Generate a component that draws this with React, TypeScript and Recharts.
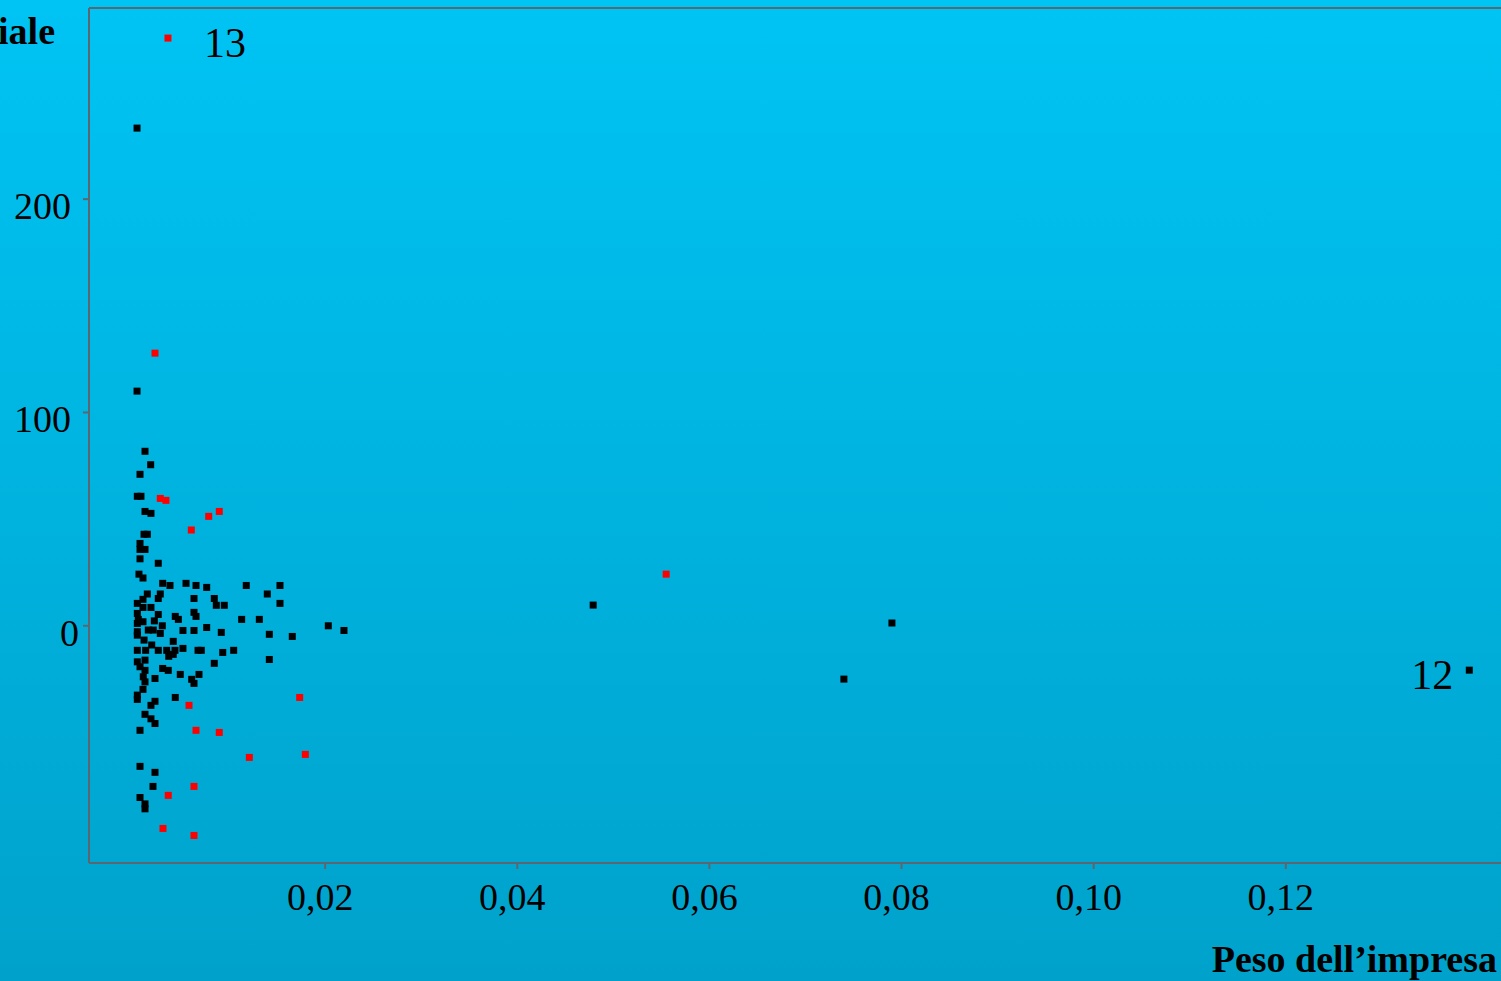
import { ReferenceLine, Scatter, ScatterChart, XAxis, YAxis } from "recharts";

// Peso dell'impresa (x) vs variazione (y).
const blackPoints: [number, number][] = [
  [0.00042, 233.3], [0.00042, 110.0], [0.00125, 81.8], [0.00184, 75.5], [0.00073, 71.0],
  [0.00045, 60.7], [0.00083, 60.7], [0.00125, 53.6], [0.00187, 52.7], [0.00115, 42.9],
  [0.00149, 42.9], [0.00073, 38.6], [0.00073, 35.8], [0.00125, 35.8], [0.00073, 31.4],
  [0.00263, 29.3], [0.00062, 24.2], [0.00104, 22.4], [0.00309, 19.9], [0.00385, 18.9],
  [0.00552, 19.9], [0.00656, 18.9], [0.00767, 18.0], [0.01179, 18.9], [0.0153, 18.9],
  [0.00149, 14.9], [0.00284, 14.9], [0.01398, 14.9], [0.00104, 12.4], [0.00263, 12.8],
  [0.00635, 12.8], [0.00846, 12.8], [0.00867, 9.6], [0.0095, 9.6], [0.0153, 10.5],
  [0.00045, 10.5], [0.00104, 8.6], [0.00187, 8.6], [0.00045, 5.8], [0.00263, 5.3],
  [0.0044, 4.4], [0.00472, 3.0], [0.00635, 6.3], [0.00656, 4.4], [0.01131, 3.0],
  [0.01315, 3.0], [0.00055, 3.0], [0.00104, 1.9], [0.00222, 2.3], [0.00305, 0],
  [0.00045, 1.1], [0.02033, 0], [0.02196, -2.2], [0.0052, -2.2], [0.00635, -2.2],
  [0.00767, -0.8], [0.00919, -3.1], [0.01419, -4.0], [0.01658, -5.0], [0.00045, -2.8],
  [0.00159, -2.0], [0.00211, -2.0], [0.00284, -3.6], [0.00115, -6.7], [0.00419, -7.3],
  [0.00045, -4.4], [0.00195, -9.0], [0.0052, -10.6], [0.00045, -11.5], [0.00132, -11.5],
  [0.00263, -11.5], [0.00351, -11.5], [0.00437, -11.5], [0.00677, -11.5], [0.00711, -11.5],
  [0.00934, -12.5], [0.01048, -11.5], [0.00372, -14.3], [0.00419, -13.4], [0.00045, -16.9],
  [0.00125, -16.1], [0.00073, -19.2], [0.00846, -17.6], [0.01419, -15.8], [0.00309, -20.0],
  [0.00367, -20.9], [0.00125, -20.9], [0.00492, -22.8], [0.00687, -22.8], [0.00107, -23.9],
  [0.00229, -24.7], [0.00611, -25.1], [0.00635, -27.0], [0.00125, -26.3], [0.00104, -29.8],
  [0.00045, -32.5], [0.00045, -34.5], [0.0044, -33.6], [0.00229, -35.4], [0.00187, -37.3],
  [0.00125, -41.5], [0.00187, -43.6], [0.00229, -45.8], [0.00073, -49.0], [0.00073, -65.9],
  [0.00229, -68.7], [0.00208, -75.3], [0.00073, -80.5], [0.00125, -83.5], [0.00125, -85.8],
  [0.0479, 9.7], [0.079, 1.3], [0.074, -25.0], [0.1391, -20.8],
];

const redPoints: [number, number][] = [
  [0.00364, 275.5], [0.00229, 127.8], [0.00284, 59.7], [0.00343, 58.8], [0.00898, 53.6],
  [0.00788, 51.3], [0.00607, 44.9], [0.0555, 24.2], [0.00583, -37.3], [0.01735, -33.6],
  [0.00656, -49.0], [0.00898, -50.0], [0.01211, -61.7], [0.01794, -60.3], [0.00635, -75.3],
  [0.00367, -79.5], [0.00312, -95.0], [0.00635, -98.3],
];

// point labels: "13" on the top red point, "12" on the far right black point
const pointLabels: { x: number; y: number; text: string; side: "left" | "right" }[] = [
  { x: 0.00364, y: 275.5, text: "13", side: "right" },
  { x: 0.1391, y: -20.8, text: "12", side: "left" },
];

const xTicks = [0.02, 0.04, 0.06, 0.08, 0.1, 0.12];
const yTicks = [0, 100, 200];
const X_DOMAIN: [number, number] = [-0.00458, 0.1424];
const Y_DOMAIN: [number, number] = [-111.2, 289.6];

const AXIS = "#5b6770";
const FONT = "'Liberation Serif', 'Times New Roman', serif";

const toRows = (pts: [number, number][]) =>
  pts.map(([x, y]) => {
    const lab = pointLabels.find((l) => l.x === x && l.y === y);
    return { x, y, label: lab?.text, side: lab?.side };
  });

function SquareDot(props: any) {
  const { cx, cy, fill, payload } = props;
  if (cx == null || cy == null) return null;
  return (
    <g>
      <rect x={cx - 3.5} y={cy - 3.5} width={7} height={7} fill={fill} />
      {payload?.label && (
        <text
          x={payload.side === "left" ? cx - 16 : cx + 36}
          y={cy + 19}
          textAnchor={payload.side === "left" ? "end" : "start"}
          fontFamily={FONT}
          fontSize={42}
          fill="#000"
        >
          {payload.label}
        </text>
      )}
    </g>
  );
}

function XTick({ x, y, payload }: any) {
  return (
    <text x={x - 5} y={y + 41} textAnchor="middle" fontFamily={FONT} fontSize={38} fill="#000">
      {payload.value.toFixed(2).replace(".", ",")}
    </text>
  );
}

function YTick({ x, y, payload }: any) {
  // the "0" label sits a little closer to the axis in the original
  const shift = payload.value === 0 ? 8 : 0;
  return (
    <text x={x - 12 + shift} y={y + 20} textAnchor="end" fontFamily={FONT} fontSize={38} fill="#000">
      {payload.value}
    </text>
  );
}

export default function App() {
  return (
    <div
      style={{
        position: "fixed",
        left: 0,
        top: 0,
        width: 1501,
        height: 981,
        overflow: "hidden",
        background: "linear-gradient(to bottom, #00c4f4, #00a2cb)",
        fontFamily: FONT,
      }}
    >
      <ScatterChart width={1501} height={981} margin={{ top: 8, right: 0, bottom: 0, left: 0 }}>
        <XAxis
          type="number"
          dataKey="x"
          domain={X_DOMAIN}
          allowDataOverflow
          ticks={xTicks}
          height={118}
          tickSize={6}
          tickMargin={0}
          axisLine={{ stroke: AXIS, strokeWidth: 2 }}
          tickLine={{ stroke: AXIS, strokeWidth: 2 }}
          tick={<XTick />}
        />
        <YAxis
          type="number"
          dataKey="y"
          domain={Y_DOMAIN}
          allowDataOverflow
          ticks={yTicks}
          width={89}
          tickSize={6}
          tickMargin={0}
          axisLine={{ stroke: AXIS, strokeWidth: 2 }}
          tickLine={{ stroke: AXIS, strokeWidth: 2 }}
          tick={<YTick />}
        />
        <ReferenceLine y={Y_DOMAIN[1]} stroke={AXIS} strokeWidth={2} />
        <Scatter data={toRows(blackPoints)} fill="#000" shape={<SquareDot />} isAnimationActive={false} />
        <Scatter data={toRows(redPoints)} fill="#ff0000" shape={<SquareDot />} isAnimationActive={false} />
      </ScatterChart>
      <div
        style={{
          position: "absolute",
          right: 1501 - 55,
          top: 12,
          fontSize: 38,
          fontWeight: "bold",
          lineHeight: "38px",
          whiteSpace: "nowrap",
          color: "#000",
        }}
      >
        iale
      </div>
      <div
        style={{
          position: "absolute",
          right: 4,
          top: 940,
          fontSize: 38,
          fontWeight: "bold",
          lineHeight: "38px",
          whiteSpace: "nowrap",
          color: "#000",
        }}
      >
        Peso dell’impresa
      </div>
    </div>
  );
}
